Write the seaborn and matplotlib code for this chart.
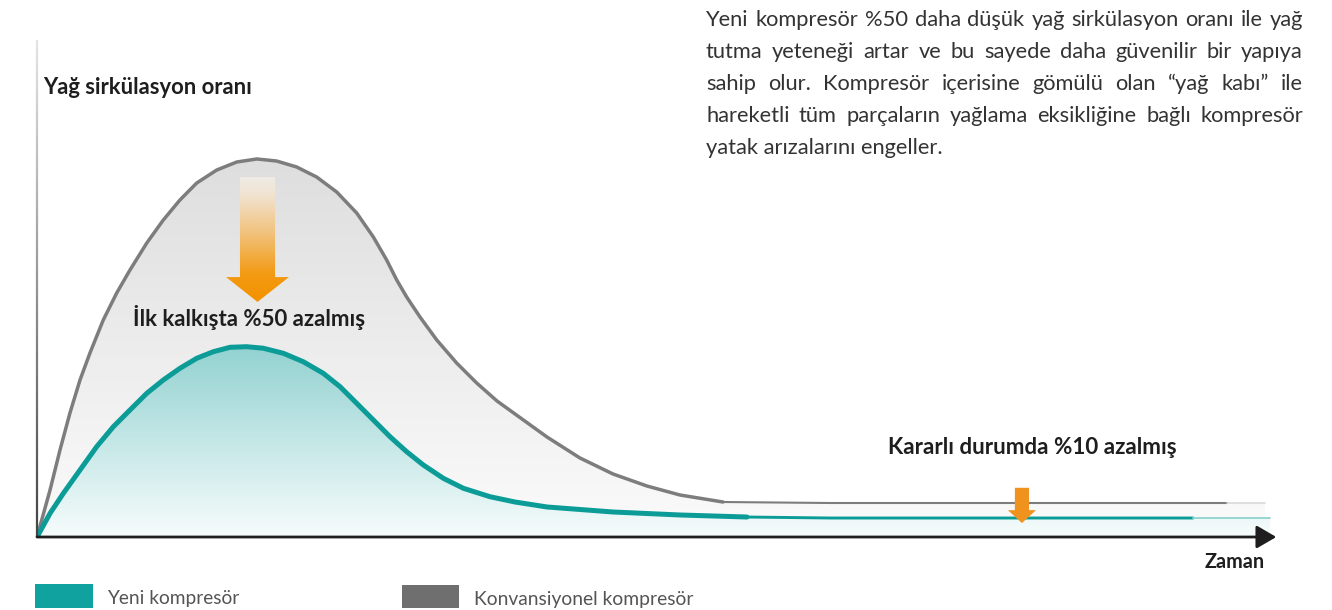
import numpy as np
import matplotlib
matplotlib.use("Agg")
import matplotlib.pyplot as plt
import seaborn as sns
from matplotlib.patches import Polygon, Rectangle, FancyArrowPatch
from matplotlib.collections import LineCollection
from matplotlib.colors import LinearSegmentedColormap

# ---------------- data ----------------
# Konvansiyonel kompresör (gray curve)
time_conv = [0.0, 1.05, 1.85, 2.65, 3.46, 4.26, 5.33, 6.41, 7.48, 8.83, 10.16, 11.50,
             12.85, 14.46, 16.07, 17.68, 19.28, 20.89, 22.50, 24.11, 25.72, 27.06,
             28.13, 28.94, 29.74, 30.81, 32.16, 33.76, 35.37, 37.01, 41.03, 43.68,
             46.34, 49.07, 51.73, 55.19, 63.80, 77.47, 95.74, 98.79]
rate_conv = [0.0, 9.46, 17.51, 24.95, 31.59, 37.02, 43.66, 49.09, 53.72, 59.15, 63.78, 67.81,
             71.23, 73.84, 75.45, 76.06, 75.65, 74.45, 72.43, 69.42, 65.19, 60.36,
             55.73, 51.71, 48.29, 44.27, 39.64, 35.01, 30.99, 27.36, 20.12, 15.90,
             12.68, 10.26, 8.45, 7.04, 6.84, 6.84, 6.84, 6.84]
# Yeni kompresör (teal curve)
time_new = [0.0, 1.05, 2.12, 3.46, 4.80, 6.14, 7.48, 8.83, 10.16, 11.50, 12.85, 14.18,
            15.53, 16.87, 18.21, 19.82, 21.42, 23.03, 24.38, 25.72, 27.06, 28.40,
            29.74, 31.08, 32.69, 34.30, 36.44, 38.46, 41.03, 46.34, 51.73, 57.12,
            63.80, 77.47, 93.00, 99.20]
rate_new = [0.0, 4.77, 8.79, 13.48, 18.17, 22.19, 25.55, 28.91, 31.59, 33.94, 35.96, 37.28,
            38.17, 38.29, 37.98, 36.96, 35.27, 32.94, 30.24, 26.90, 23.54, 20.18,
            17.16, 14.49, 11.81, 9.80, 8.11, 7.04, 6.04, 5.03, 4.43, 4.02,
            3.82, 3.82, 3.82, 3.82]

series_labels = ["Yeni kompresör", "Konvansiyonel kompresör"]
y_axis_label = "Yağ sirkülasyon oranı"
x_axis_label = "Zaman"
note_start = "İlk kalkışta %50 azalmış"
note_steady = "Kararlı durumda %10 azalmış"
body_lines = [
    "Yeni kompresör %50 daha düşük yağ sirkülasyon oranı ile yağ",
    "tutma yeteneği artar ve bu sayede daha güvenilir bir yapıya",
    "sahip olur. Kompresör içerisine gömülü olan “yağ kabı” ile",
    "hareketli tüm parçaların yağlama eksikliğine bağlı kompresör",
    "yatak arızalarını engeller.",
]

# ---------------- style ----------------
sns.set_theme(style="white")
plt.rcParams["font.family"] = ["Lato", "DejaVu Sans"]

TEAL = "#0c9c98"
TEAL_LEG = "#0fa29e"
GRAY = "#7d7d7d"
GRAY_LEG = "#6f6f6f"

W, H = 1332, 610
fig = plt.figure(figsize=(W / 100, H / 100), dpi=100)
fig.patch.set_facecolor("white")
ax = fig.add_axes([37 / W, (H - 537) / H, (1280 - 37) / W, (537 - 40) / H])
ax.set_xlim(0, 100)
ax.set_ylim(0, 100)
ax.axis("off")


def fx(px):
    return px / W


def fy(py):
    return 1 - py / H


def gradient_under(x, y, c_top, c_bot, ytop, z):
    poly = ax.fill_between(x, y, 0, facecolor="none", edgecolor="none")
    cmap = LinearSegmentedColormap.from_list("g", [c_bot, c_top])
    grad = np.linspace(0, 1, 256).reshape(-1, 1)
    im = ax.imshow(grad, extent=[min(x), max(x), 0, ytop], origin="lower",
                   aspect="auto", cmap=cmap, zorder=z, interpolation="bilinear")
    im.set_clip_path(poly.get_paths()[0], transform=ax.transData)


# gradient fills
gradient_under(time_conv, rate_conv, "#dedede", "#fbfbfb", max(rate_conv), 1)
gradient_under(time_new, rate_new, "#92d2d1", "#f7fcfc", max(rate_new), 2)

# curves: hump (thick), steady (thinner), tail (faded)
kc = time_conv.index(55.19)
kn = time_new.index(57.12)
LK = dict(solid_joinstyle="round", solid_capstyle="round")
sns.lineplot(x=time_conv[:kc + 1], y=rate_conv[:kc + 1], ax=ax, color=GRAY, lw=2.5,
             estimator=None, sort=False, zorder=3, **LK)
ax.plot(time_conv[kc:-1], rate_conv[kc:-1], color=GRAY, lw=1.5, zorder=3, **LK)
ax.plot(time_conv[-2:], rate_conv[-2:], color="#d8d8d8", lw=1.2, zorder=3)

sns.lineplot(x=time_new[:kn + 1], y=rate_new[:kn + 1], ax=ax, color=TEAL, lw=3.6,
             estimator=None, sort=False, zorder=4, **LK)
ax.plot(time_new[kn:-1], rate_new[kn:-1], color=TEAL, lw=2.1, zorder=4, **LK)
ax.plot(time_new[-2:], rate_new[-2:], color="#8fd3d1", lw=1.3, zorder=4)
ax.set_xlim(0, 100)
ax.set_ylim(0, 100)

# vertical axis (faded gray line)
yy = np.linspace(0, 100, 120)
segs = [[(0, yy[i]), (0, yy[i + 1])] for i in range(len(yy) - 1)]
vcmap = LinearSegmentedColormap.from_list("v", ["#444444", "#e4e4e4"])
lc = LineCollection(segs, colors=vcmap(np.linspace(0, 1, len(segs))), linewidths=1.6,
                    zorder=5, clip_on=False)
ax.add_collection(lc)

# horizontal axis with arrow
arr = FancyArrowPatch((0, 0), (99.7, 0), arrowstyle="-|>,head_length=12,head_width=7",
                      mutation_scale=1, lw=2.0, color="#1e1e1e", shrinkA=0, shrinkB=0,
                      zorder=6, clip_on=False)
ax.add_patch(arr)

# big gradient arrow (first start)
cx, half_shaft, half_head = 17.74, 1.41, 2.53
y_top, y_head, y_tip = 72.4, 52.3, 47.3
verts = [(cx - half_shaft, y_top), (cx + half_shaft, y_top), (cx + half_shaft, y_head),
         (cx + half_head, y_head), (cx, y_tip), (cx - half_head, y_head),
         (cx - half_shaft, y_head)]
apoly = Polygon(verts, closed=True, facecolor="none", edgecolor="none")
ax.add_patch(apoly)
acmap = LinearSegmentedColormap.from_list(
    "a", [(0.0, "#f39200"), (0.22, "#f39a12"), (0.55, "#f1c27c"), (0.85, "#f1e2cf"),
          (1.0, "#efebe6")])
agrad = np.linspace(0, 1, 256).reshape(-1, 1)
aim = ax.imshow(agrad, extent=[cx - half_head, cx + half_head, y_tip, y_top],
                origin="lower", aspect="auto", cmap=acmap, zorder=5, interpolation="bilinear")
aim.set_clip_path(apoly)

# small arrow (steady state)
sx, s_shaft, s_head = 79.24, 0.57, 1.13
s_top, s_headb, s_tip = 9.9, 5.4, 2.8
ax.add_patch(Polygon([(sx - s_shaft, s_top), (sx + s_shaft, s_top), (sx + s_shaft, s_headb),
                      (sx + s_head, s_headb), (sx, s_tip), (sx - s_head, s_headb),
                      (sx - s_shaft, s_headb)], closed=True, facecolor="#f0921e",
                     edgecolor="none", zorder=6))
ax.set_xlim(0, 100)
ax.set_ylim(0, 100)

# ---------------- texts ----------------
fig.canvas.draw()
renderer = fig.canvas.get_renderer()


def fitted_text(s, left, baseline, width, **kw):
    t = fig.text(fx(left), fy(baseline), s, fontsize=10, va="baseline", ha="left", **kw)
    w = t.get_window_extent(renderer).width
    t.set_fontsize(10 * width / w)
    return t


BOLD = dict(fontweight="bold", color="#1e1e1e")
fitted_text(y_axis_label, 43, 94, 209, **BOLD)
fitted_text(note_start, 133, 326, 232, **BOLD)
fitted_text(note_steady, 888, 454, 289, **BOLD)
fitted_text(x_axis_label, 1205, 568, 60, **BOLD)

# legend
fig.patches.append(Rectangle((fx(35), fy(608)), (93 - 35) / W, (608 - 584) / H,
                             transform=fig.transFigure, facecolor=TEAL_LEG, edgecolor="none"))
fig.patches.append(Rectangle((fx(402), fy(608)), (459 - 402) / W, (608 - 585) / H,
                             transform=fig.transFigure, facecolor=GRAY_LEG, edgecolor="none"))
fitted_text(series_labels[0], 107, 604, 133, color="#555555")
fitted_text(series_labels[1], 474, 605, 221, color="#555555")

# justified paragraph
BODY_L, BODY_R = 706, 1303
baselines = [26, 58, 90, 122, 154]
probes = [fig.text(0, 0, ln, fontsize=10) for ln in body_lines]
natural = max(t.get_window_extent(renderer).width for t in probes)
for t in probes:
    t.remove()
body_fs = 10 * (BODY_R - BODY_L) * 0.985 / natural
BODY_C = "#333333"
for i, line in enumerate(body_lines):
    if i == len(body_lines) - 1:
        fig.text(fx(BODY_L), fy(baselines[i]), line, fontsize=body_fs, color=BODY_C,
                 va="baseline", ha="left")
        continue
    words = line.split(" ")
    ts = [fig.text(0, 0, w, fontsize=body_fs, color=BODY_C, va="baseline", ha="left")
          for w in words]
    widths = [t.get_window_extent(renderer).width for t in ts]
    gap = (BODY_R - BODY_L - sum(widths)) / (len(words) - 1)
    x = BODY_L
    for t, w in zip(ts, widths):
        t.set_position((fx(x), fy(baselines[i])))
        x += w + gap

fig.savefig("out.png", dpi=100, facecolor="white")
